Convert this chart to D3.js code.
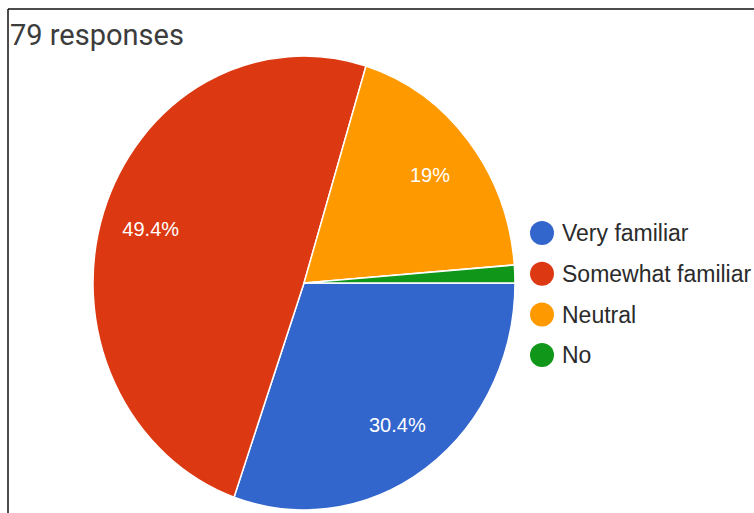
<!DOCTYPE html>
<html>
<head>
<meta charset="utf-8">
<script src="https://d3js.org/d3.v7.min.js"></script>
<style>
    body { margin: 0; background: #fff; }
    svg { display: block; }
</style>
</head>
<body>
<div id="chart-container"></div>
<script>
    // Chart data
    const categories = ['Very familiar', 'Somewhat familiar', 'Neutral', 'No'];
    const counts = [24, 39, 15, 1];
    const colors = ['#3366cc', '#dc3912', '#ff9900', '#109618'];
    const totalResponses = 79;

    const width = 754, height = 513;
    const cx = 304, cy = 283;
    const rx = 211, ry = 227; // the screenshot is stretched a bit vertically
    const ky = ry / rx;

    const svg = d3.select('#chart-container')
        .append('svg')
        .attr('width', width)
        .attr('height', height);

    // Frame lines (top and left)
    svg.append('line')
        .attr('x1', 8).attr('x2', width).attr('y1', 9).attr('y2', 9)
        .attr('stroke', '#111').attr('stroke-width', 1.5);
    svg.append('line')
        .attr('x1', 8).attr('x2', 8).attr('y1', 9).attr('y2', height)
        .attr('stroke', '#111').attr('stroke-width', 1.5);

    // Title
    svg.append('text')
        .attr('x', 10)
        .attr('y', 45)
        .attr('font-family', 'Roboto, Arial, sans-serif')
        .attr('font-size', 29)
        .attr('fill', '#3c3c3c')
        .text(`${totalResponses} responses`);

    const data = categories.map((c, i) => ({ name: c, value: counts[i], color: colors[i] }));

    // Pie starts at 3 o'clock and runs clockwise
    const pie = d3.pie()
        .sort(null)
        .value(d => d.value)
        .startAngle(Math.PI / 2)
        .endAngle(Math.PI / 2 + 2 * Math.PI);

    const arcs = pie(data);
    const arc = d3.arc().innerRadius(0).outerRadius(rx);
    const labelArc = d3.arc().innerRadius(rx * 0.765).outerRadius(rx * 0.765);

    const pieG = svg.append('g')
        .attr('transform', `translate(${cx},${cy}) scale(1,${ky})`);

    pieG.selectAll('path')
        .data(arcs)
        .enter()
        .append('path')
        .attr('d', arc)
        .attr('fill', d => d.data.color)
        .attr('stroke', '#fff')
        .attr('stroke-width', 1.5);

    // Percent labels (skip tiny slices)
    svg.append('g')
        .attr('transform', `translate(${cx},${cy})`)
        .selectAll('text')
        .data(arcs.filter(d => d.data.value / totalResponses > 0.05))
        .enter()
        .append('text')
        .attr('x', d => labelArc.centroid(d)[0])
        .attr('y', d => labelArc.centroid(d)[1] * ky)
        .attr('dy', '0.36em')
        .attr('text-anchor', 'middle')
        .attr('font-family', 'Arial, "Liberation Sans", sans-serif')
        .attr('font-size', 20)
        .attr('fill', '#fff')
        .text(d => {
            const p = Math.round(d.data.value / totalResponses * 1000) / 10;
            return `${p}%`;
        });

    // Legend
    const legend = svg.append('g')
        .attr('transform', 'translate(542,233)');

    const rows = legend.selectAll('g')
        .data(data)
        .enter()
        .append('g')
        .attr('transform', (d, i) => `translate(0,${i * 40.7})`);

    rows.append('circle')
        .attr('r', 12)
        .attr('fill', d => d.color);

    rows.append('text')
        .attr('x', 20)
        .attr('dy', '0.36em')
        .attr('font-family', 'Arial, "Liberation Sans", sans-serif')
        .attr('font-size', 23)
        .attr('fill', '#2b2b2b')
        .text(d => d.name);
</script>
</body>
</html>
